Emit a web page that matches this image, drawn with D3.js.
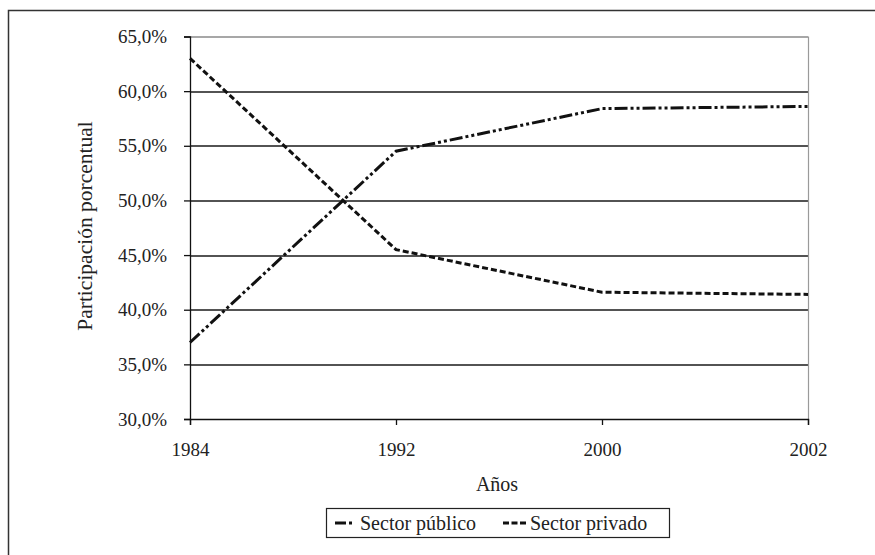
<!DOCTYPE html>
<html>
<head>
<meta charset="utf-8">
<script src="https://cdn.jsdelivr.net/npm/d3@7"></script>
<style>
  html, body { margin: 0; padding: 0; background: #fff; }
  svg { display: block; font-family: "Liberation Serif", "Times New Roman", serif; }
</style>
</head>
<body>
<svg id="chart" width="875" height="555"></svg>
<script>
// Participación porcentual por sector, 1984–2002
const years = ["1984", "1992", "2000", "2002"];
const publico = [37.0, 54.5, 58.4, 58.6];
const privado = [63.0, 45.5, 41.6, 41.4];
const yTicks = [30, 35, 40, 45, 50, 55, 60, 65];
const seriesNames = ["Sector público", "Sector privado"];

const svg = d3.select("#chart");
const W = 875, H = 555;
const margin = { left: 190, right: 875 - 808, top: 36.5, bottom: 555 - 419 };
const iw = W - margin.left - margin.right;
const ih = H - margin.top - margin.bottom;
const serif = "'Liberation Serif', 'Times New Roman', serif";

// outer frame
svg.append("rect")
  .attr("x", 8.5).attr("y", 10.5)
  .attr("width", 880).attr("height", 560)
  .attr("fill", "none").attr("stroke", "#333").attr("stroke-width", 1.5);

const g = svg.append("g").attr("transform", `translate(${margin.left},${margin.top})`);

const x = d3.scalePoint().domain(years).range([0, iw]);
const y = d3.scaleLinear().domain([30, 65]).range([ih, 0]);

// horizontal gridlines
g.append("g").selectAll("line")
  .data(yTicks.filter(t => t > 30))
  .join("line")
  .attr("x1", 0).attr("x2", iw)
  .attr("y1", d => Math.round(y(d)) + 0.5).attr("y2", d => Math.round(y(d)) + 0.5)
  .attr("stroke", d => d === 65 ? "#8a8a8a" : "#1a1a1a")
  .attr("stroke-width", 1.3);

// right edge of plot area
g.append("line")
  .attr("x1", iw + 0.5).attr("x2", iw + 0.5)
  .attr("y1", 0).attr("y2", ih)
  .attr("stroke", "#9a9a9a").attr("stroke-width", 1.2);

// y axis
const yAxis = g.append("g")
  .call(d3.axisLeft(y).tickValues(yTicks).tickSize(6).tickPadding(17)
    .tickFormat(d => d3.format(".1f")(d).replace(".", ",") + "%"));
yAxis.select(".domain").attr("stroke", "#111").attr("stroke-width", 1.3);
yAxis.selectAll(".tick line").attr("stroke", "#111").attr("stroke-width", 1.3);
yAxis.selectAll("text")
  .attr("font-family", serif)
  .attr("font-size", 19).attr("fill", "#222");

// x axis
const xAxis = g.append("g").attr("transform", `translate(0,${ih})`)
  .call(d3.axisBottom(x).tickSize(6).tickPadding(18));
xAxis.select(".domain").attr("stroke", "#111").attr("stroke-width", 1.3);
xAxis.selectAll(".tick line").attr("stroke", "#111").attr("stroke-width", 1.3);
xAxis.selectAll("text")
  .attr("font-family", serif)
  .attr("font-size", 19).attr("fill", "#222");

// series lines
const line = d3.line().x((d, i) => x(years[i])).y(d => y(d));
const dashPublico = "13,3,3,3,3,3";
const dashPrivado = "6,3";

g.append("path").datum(publico)
  .attr("d", line).attr("fill", "none")
  .attr("stroke", "#111").attr("stroke-width", 3)
  .attr("stroke-dasharray", dashPublico);

g.append("path").datum(privado)
  .attr("d", line).attr("fill", "none")
  .attr("stroke", "#111").attr("stroke-width", 3)
  .attr("stroke-dasharray", dashPrivado);

// axis titles
svg.append("text")
  .attr("transform", `translate(92,226) rotate(-90)`)
  .attr("text-anchor", "middle")
  .attr("font-family", serif)
  .attr("font-size", 21.5).attr("fill", "#222")
  .text("Participación porcentual");

svg.append("text")
  .attr("x", 497).attr("y", 491)
  .attr("text-anchor", "middle")
  .attr("font-family", serif)
  .attr("font-size", 20).attr("fill", "#222")
  .text("Años");

// legend
const leg = svg.append("g");
leg.append("rect")
  .attr("x", 326.5).attr("y", 508.5).attr("width", 343).attr("height", 29)
  .attr("fill", "#fff").attr("stroke", "#222").attr("stroke-width", 1.2);

const legendItems = [
  { name: seriesNames[0], x0: 335, len: 18, dash: "11,3,3,50", tx: 360 },
  { name: seriesNames[1], x0: 503, len: 23, dash: "6,2.5", tx: 530 }
];
legendItems.forEach(it => {
  leg.append("line")
    .attr("x1", it.x0).attr("x2", it.x0 + it.len)
    .attr("y1", 523).attr("y2", 523)
    .attr("stroke", "#111").attr("stroke-width", 3)
    .attr("stroke-dasharray", it.dash);
  leg.append("text")
    .attr("x", it.tx).attr("y", 530)
    .attr("font-family", serif)
    .attr("font-size", 20).attr("fill", "#222")
    .text(it.name);
});
</script>
</body>
</html>
